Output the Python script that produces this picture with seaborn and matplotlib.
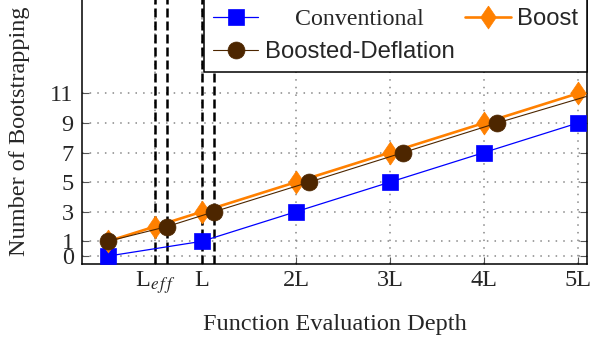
import matplotlib
matplotlib.use('Agg')
import matplotlib.pyplot as plt
import seaborn as sns

# x in units of L (Leff is about half of L)
x_conventional = [0, 1, 2, 3, 4, 5]
y_conventional = [0, 1, 3, 5, 7, 9]
x_boost = [0, 0.5, 1, 2, 3, 4, 5]
y_boost = [1, 2, 3, 5, 7, 9, 11]
x_deflation = [0, 0.63, 1.13, 2.14, 3.14, 4.14, 5.2]
y_deflation = [1, 2, 3, 5, 7, 9, 11]

x_ticks = [0.5, 1, 2, 3, 4, 5]
x_ticklabels = [r'L$_{e\,f\,f}$', 'L', '2L', '3L', '4L', '5L']
y_ticks = [0, 1, 3, 5, 7, 9, 11]
# dashed markers at Leff / L for both boosted variants
dashed_x = [x_boost[1], x_deflation[1], x_boost[2], x_deflation[2]]


def main():
    sns.set_style('ticks')
    plt.rcParams['font.family'] = ['Liberation Serif', 'DejaVu Serif']
    plt.rcParams['mathtext.fontset'] = 'stix'
    plt.rcParams['font.size'] = 17.5

    fig = plt.figure(figsize=(5.94, 3.47), dpi=100)
    ax = fig.add_axes([0.138, 0.239, 0.850, 0.790])

    for xv in dashed_x:
        ax.axvline(xv, color='black', lw=1.8, ls=(0, (3.6, 1.6)), zorder=1.5)

    sns.lineplot(x=x_conventional, y=y_conventional, ax=ax, sort=False,
                 color='#0000ff', linewidth=0.9, marker='s', markersize=12.2,
                 markeredgecolor='#0000ff', markeredgewidth=0.5,
                 label='     Conventional', zorder=3)
    diamond = [(0, 1), (0.68, 0), (0, -1), (-0.68, 0), (0, 1)]
    sns.lineplot(x=x_boost, y=y_boost, ax=ax, sort=False,
                 color='#ff8000', linewidth=1.9, marker=diamond, markersize=16.5,
                 markeredgecolor='#ff8000', markeredgewidth=0.5,
                 label='Boost', zorder=3.1)
    sns.lineplot(x=x_deflation, y=y_deflation, ax=ax, sort=False,
                 color='#4d2600', linewidth=0.8, marker='o', markersize=12.2,
                 markeredgecolor='#4d2600', markeredgewidth=0.5,
                 label='Boosted-Deflation', zorder=3.2)

    ax.set_xlim(-0.277, 5.096)
    ax.set_ylim(-0.54, 18.0)
    ax.set_xticks(x_ticks)
    ax.set_xticklabels(x_ticklabels)
    ax.set_yticks(y_ticks)

    ax.grid(True, color='#888888', lw=1.1, ls=(0, (1, 4)), zorder=1)
    ax.set_axisbelow(True)
    ax.tick_params(direction='in', length=5, width=0.8, color='#555555',
                   right=True, top=True, labelsize=17.5)
    ax.tick_params(axis='x', pad=4)
    ax.tick_params(axis='y', pad=6)
    for sp in ax.spines.values():
        sp.set_color('black')
        sp.set_linewidth(1.1)

    ax.set_xlabel('Function Evaluation Depth', fontsize=17.5, labelpad=13)
    ax.set_ylabel('Number of Bootstrapping', fontsize=17.5)
    ax.yaxis.set_label_coords(-0.103, 0.485)

    handles, labels = ax.get_legend_handles_labels()
    order = [0, 2, 1]
    leg = ax.legend([handles[i] for i in order], [labels[i] for i in order],
                    ncol=2, loc='lower left',
                    bbox_to_anchor=(0.2416, 0.7007, 0.7584, 0.3),
                    mode='expand', borderaxespad=0, fancybox=False,
                    edgecolor='black', framealpha=1, handlelength=1.9,
                    handletextpad=0.26, labelspacing=0.45, borderpad=0.38,
                    columnspacing=0.4,
                    prop={'family': 'Liberation Sans', 'size': 17.2})
    leg.get_frame().set_linewidth(1.1)
    leg.get_texts()[0].set_fontfamily('Liberation Serif')

    fig.savefig('out.png', dpi=100)


if __name__ == "__main__":
    main()
